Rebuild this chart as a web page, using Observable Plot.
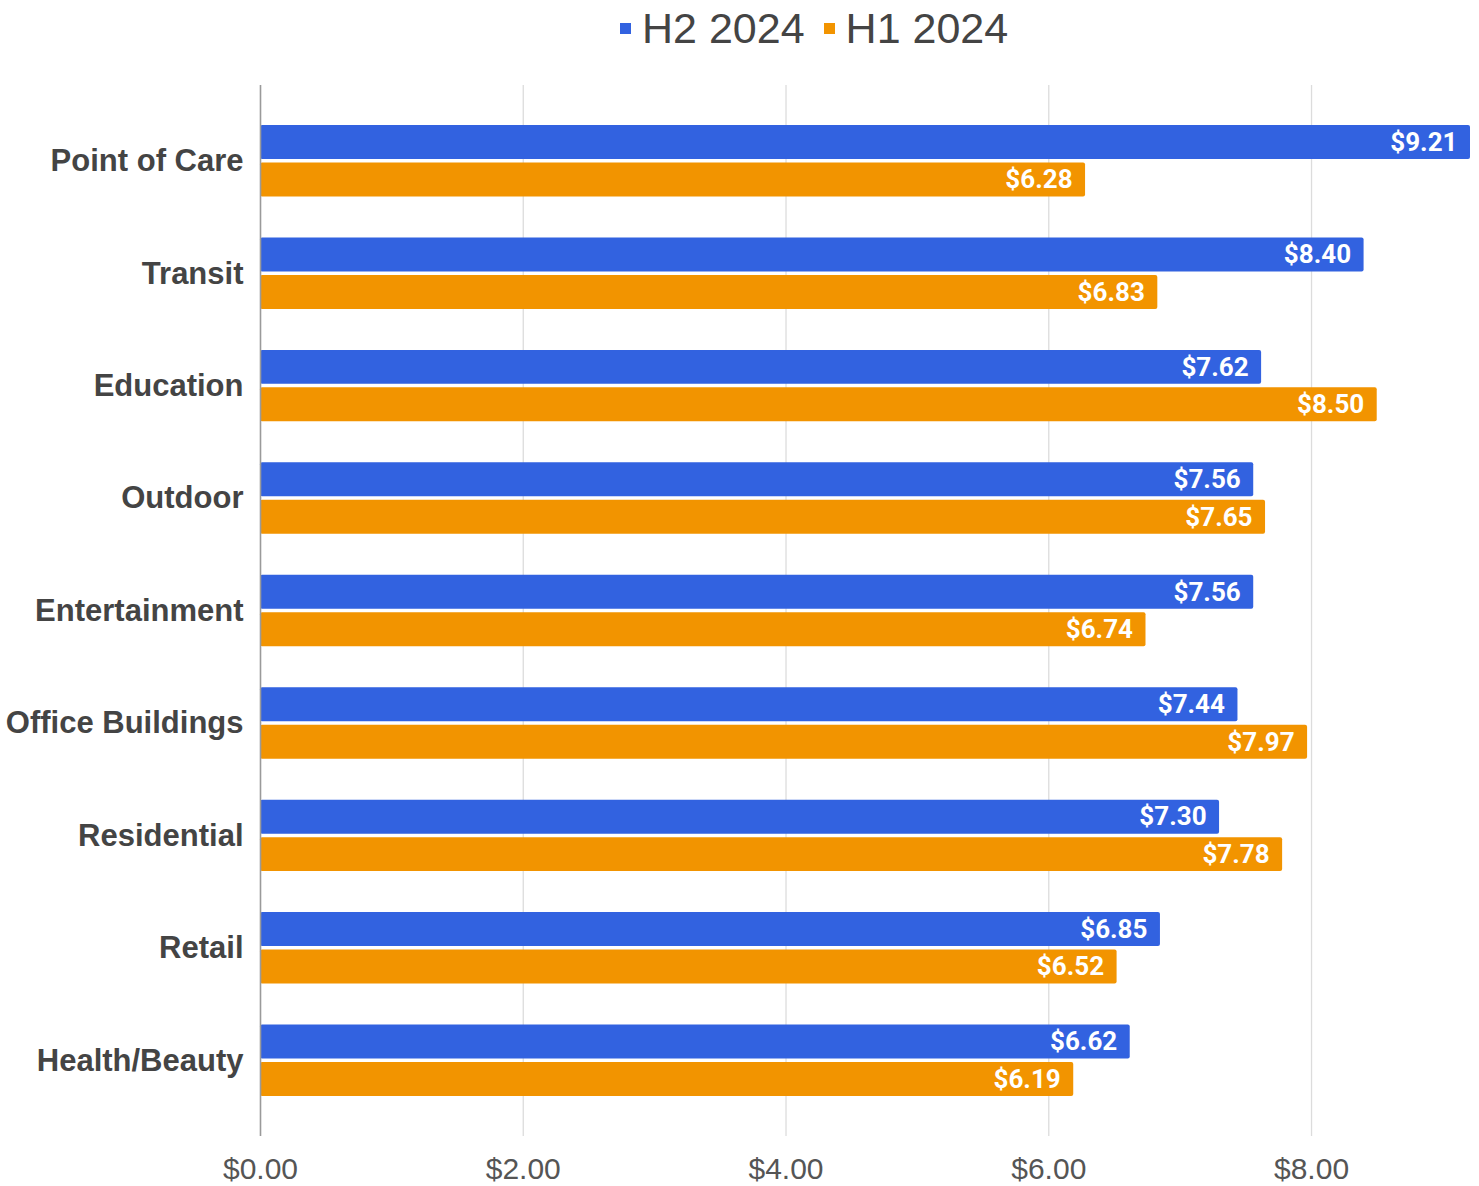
<!DOCTYPE html>
<html>
<head>
<meta charset="utf-8">
<script src="https://cdn.jsdelivr.net/npm/d3@7"></script>
<script src="https://cdn.jsdelivr.net/npm/@observablehq/plot@0.6"></script>
<style>
  html, body { margin: 0; padding: 0; background: #fff; }
  #wrap { position: relative; width: 1479px; height: 1186px; }
  #chart { position: absolute; left: 0; top: 0; }
  #legend { position: absolute; left: 620px; top: 4px; display: flex; align-items: center;
    font-family: "Liberation Sans", Arial, sans-serif; font-size: 43px; color: #444; line-height: 48px; }
  #legend .item { display: flex; align-items: center; margin-right: 19px; }
  #legend .sw { width: 11px; height: 11px; margin-right: 11px; display: inline-block; }
</style>
</head>
<body>
<div id="wrap">
  <div id="chart"></div>
  <div id="legend"></div>
</div>
<script>
const categories = ["Point of Care", "Transit", "Education", "Outdoor", "Entertainment", "Office Buildings", "Residential", "Retail", "Health/Beauty"];
const seriesNames = ["H2 2024", "H1 2024"];
const h2Values = [9.21, 8.40, 7.62, 7.56, 7.56, 7.44, 7.30, 6.85, 6.62];
const h1Values = [6.28, 6.83, 8.50, 7.65, 6.74, 7.97, 7.78, 6.52, 6.19];
const xTicks = [0, 2, 4, 6, 8];
const colors = ["#3262e0", "#f29400"];

const data = [];
categories.forEach((c, i) => {
  data.push({category: c, series: seriesNames[0], value: h2Values[i], key: c + "|0"});
  data.push({category: c, series: seriesNames[1], value: h1Values[i], key: c + "|1"});
});
// band domain: two bars per category plus a spacer between groups
const yDomain = categories.flatMap((c, i) => i < categories.length - 1 ? [c + "|0", c + "|1", c + "|gap"] : [c + "|0", c + "|1"]);

const step = 37.5;
const chart = Plot.plot({
  width: 1479,
  height: 1186,
  marginTop: 85,
  marginBottom: 50,
  marginLeft: 260,
  marginRight: 9,
  style: {background: "#fff", fontFamily: "'Liberation Sans', Arial, sans-serif"},
  x: {domain: [0, 9.21], axis: null},
  y: {domain: yDomain, paddingInner: 0.0929, paddingOuter: 1.067, round: false, axis: null},
  color: {domain: seriesNames, range: colors},
  marks: [
    Plot.gridX(xTicks.filter(t => t > 0), {stroke: "#dcdcdc", strokeOpacity: 1, strokeWidth: 1.3}),
    Plot.barX(data, {x: "value", y: "key", fill: "series", rx: 2}),
    Plot.ruleX([0], {stroke: "#9a9a9a", strokeWidth: 1.6}),
    Plot.text(data, {
      x: "value", y: "key", text: d => "$" + d.value.toFixed(2),
      textAnchor: "end", dx: -13, fill: "white", fontWeight: "bold",
      fontSize: 26, fontFamily: "Roboto, sans-serif"
    }),
    Plot.text(categories, {
      y: c => c + "|0", text: d => d, frameAnchor: "left", textAnchor: "end",
      dx: -17, dy: step / 2, fill: "#444", fontWeight: "bold", fontSize: 31
    }),
    Plot.axisX({
      ticks: xTicks, tickFormat: d => "$" + d.toFixed(2), tickSize: 0, tickPadding: 21,
      fontSize: 30, fill: "#555", label: null
    })
  ]
});
document.getElementById("chart").appendChild(chart);

const legend = document.getElementById("legend");
seriesNames.forEach((s, i) => {
  const item = document.createElement("span");
  item.className = "item";
  const sw = document.createElement("span");
  sw.className = "sw";
  sw.style.background = colors[i];
  item.appendChild(sw);
  item.appendChild(document.createTextNode(s));
  legend.appendChild(item);
});
</script>
</body>
</html>
